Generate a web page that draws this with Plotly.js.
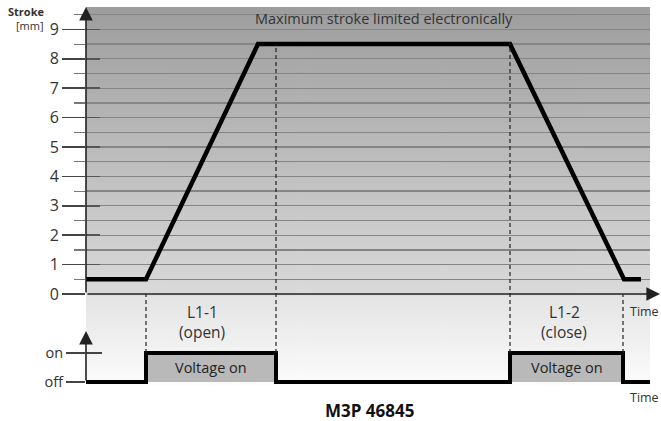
<!DOCTYPE html>
<html>
<head>
<meta charset="utf-8">
<script src="https://cdn.plot.ly/plotly-3.0.1.min.js"></script>
<style>html,body{margin:0;padding:0;background:#fff}#chart{width:661px;height:421px}</style>
</head>
<body>
<div id="chart"></div>
<script>
// ---- data ----
const strokeTime = [0, 60, 172, 424, 538, 555];
const strokeMM   = [0.5, 0.5, 8.5, 8.5, 0.5, 0.5];
const voltTime   = [0, 60, 190, 424, 537, 564];
const voltState  = [0, 1, 0, 1, 0, 0];
const eventTime  = [60, 190, 424, 537];
const eventTop   = [0, 8.5, 8.5, 0];
const strokeTicks = [0,1,2,3,4,5,6,7,8,9];
const voltTickVals = [0, 1];
const voltTickText = ['off', 'on'];
const phaseLabels = [
  {t: 116, a: 'L1-1', b: '(open)'},
  {t: 478, a: 'L1-2', b: '(close)'}
];
const pulseLabel = 'Voltage on';

// ---- geometry (pixel -> paper helpers) ----
const W = 661, H = 421;
const px = x => x / W;
const py = y => 1 - y / H;
const yDom = [py(294), py(7)];
const yRange = [0, 287 / 29.4];
const y2Dom = [py(392), py(330)];
const y2Range = [-10 / 29, 52 / 29];
const strokeToPaper = v => yDom[0] + (v - yRange[0]) / (yRange[1] - yRange[0]) * (yDom[1] - yDom[0]);
const voltToPaper = v => y2Dom[0] + (v - y2Range[0]) / (y2Range[1] - y2Range[0]) * (y2Dom[1] - y2Dom[0]);

// ---- gradient background ----
const cv = document.createElement('canvas');
cv.width = 4; cv.height = 378;
const ctx = cv.getContext('2d');
const g = ctx.createLinearGradient(0, 0, 0, 378);
g.addColorStop(0, '#9d9d9d');
g.addColorStop(143 / 378, '#bbbbbb');
g.addColorStop(285 / 378, '#d9d9d9');
g.addColorStop(290 / 378, '#e4e4e4');
g.addColorStop(1, '#fcfcfc');
ctx.fillStyle = g; ctx.fillRect(0, 0, 4, 378);
const bgURL = cv.toDataURL();

const FONT = 'Open Sans, sans-serif';
const TXT = '#333';

const traces = [
  {x: voltTime, y: voltState, xaxis: 'x', yaxis: 'y2', mode: 'lines', line: {shape: 'hv', width: 0, color: 'rgba(0,0,0,0)'},
   fill: 'tozeroy', fillcolor: '#b9b9b9', hoverinfo: 'skip', showlegend: false},
  {x: voltTime, y: voltState, xaxis: 'x', yaxis: 'y2', mode: 'lines', line: {shape: 'hv', width: 4, color: '#000'},
   hoverinfo: 'skip', showlegend: false},
  {x: strokeTime, y: strokeMM, xaxis: 'x', yaxis: 'y', mode: 'lines', line: {width: 4.5, color: '#000'},
   hoverinfo: 'skip', showlegend: false},
  {x: [null], y: [null], xaxis: 'x', yaxis: 'y3', mode: 'lines', showlegend: false, hoverinfo: 'skip'},
  {x: [null], y: [null], xaxis: 'x', yaxis: 'y4', mode: 'lines', showlegend: false, hoverinfo: 'skip'}
];

const shapes = eventTime.map((t, i) => ({
  type: 'line', xref: 'x', yref: 'paper', x0: t, x1: t,
  y0: voltToPaper(1), y1: strokeToPaper(eventTop[i]),
  line: {color: '#222', width: 1.2, dash: '4px,3px'}, layer: 'above'
}));

const annotations = [
  {xref: 'paper', yref: 'paper', x: px(86), y: py(7), ax: 0, ay: 287,
   showarrow: true, arrowhead: 2, arrowsize: 1.7, arrowwidth: 1.6, arrowcolor: '#222', text: ''},
  {xref: 'paper', yref: 'paper', x: px(660), y: py(294), ax: -574, ay: 0,
   showarrow: true, arrowhead: 2, arrowsize: 1.7, arrowwidth: 1.6, arrowcolor: '#222', text: ''},
  {xref: 'paper', yref: 'paper', x: px(86), y: py(331), ax: 0, ay: 51,
   showarrow: true, arrowhead: 2, arrowsize: 1.7, arrowwidth: 1.6, arrowcolor: '#222', text: ''},
  {xref: 'paper', yref: 'paper', x: px(46), y: py(12), xanchor: 'right', yanchor: 'middle', showarrow: false,
   text: '<b>Stroke</b>', font: {family: FONT, size: 11, color: TXT}},
  {xref: 'paper', yref: 'paper', x: px(46), y: py(26), xanchor: 'right', yanchor: 'middle', showarrow: false,
   text: '[mm]', font: {family: FONT, size: 11, color: TXT}},
  {xref: 'paper', yref: 'paper', x: px(384), y: py(18), xanchor: 'center', yanchor: 'middle', showarrow: false,
   text: 'Maximum stroke limited electronically', font: {family: FONT, size: 14.5, color: TXT}},
  {xref: 'paper', yref: 'paper', x: px(661), y: py(311), xanchor: 'right', yanchor: 'middle', showarrow: false,
   text: 'Time', font: {family: FONT, size: 12.5, color: TXT}},
  {xref: 'paper', yref: 'paper', x: px(661), y: py(397), xanchor: 'right', yanchor: 'middle', showarrow: false,
   text: 'Time', font: {family: FONT, size: 12.5, color: TXT}},
  {xref: 'paper', yref: 'paper', x: px(369), y: py(410), xanchor: 'center', yanchor: 'middle', showarrow: false,
   text: '<b>M3P 46845</b>', font: {family: FONT, size: 17, color: '#111'}}
];
phaseLabels.forEach(p => {
  annotations.push({xref: 'x', yref: 'paper', x: p.t, y: py(312), xanchor: 'center', yanchor: 'middle', showarrow: false,
    text: p.a, font: {family: FONT, size: 15.5, color: TXT}});
  annotations.push({xref: 'x', yref: 'paper', x: p.t, y: py(332), xanchor: 'center', yanchor: 'middle', showarrow: false,
    text: p.b, font: {family: FONT, size: 15.5, color: TXT}});
});
[[60, 190], [424, 537]].forEach(([a, b]) => {
  annotations.push({xref: 'x', yref: 'y2', x: (a + b) / 2, y: 0.5, xanchor: 'center', yanchor: 'middle', showarrow: false,
    text: pulseLabel, font: {family: FONT, size: 14.5, color: '#222'}});
});

const layout = {
  width: W, height: H,
  margin: {l: 0, r: 0, t: 0, b: 0},
  paper_bgcolor: '#fff', plot_bgcolor: 'rgba(0,0,0,0)',
  showlegend: false,
  xaxis: {domain: [px(86), px(650)], range: [0, 564], anchor: 'y', showgrid: false, zeroline: false,
          showline: false, showticklabels: false, ticks: '', fixedrange: true},
  yaxis: {domain: yDom, range: yRange, anchor: 'x', tickvals: strokeTicks, ticks: 'outside', ticklen: 23,
          tickwidth: 1.5, tickcolor: '#444', showgrid: true, gridcolor: '#858585', gridwidth: 1.3,
          zeroline: false, showline: false,
          minor: {dtick: 0.5, tick0: 0, ticks: 'outside', ticklen: 11, tickwidth: 1.2, tickcolor: '#777',
                  showgrid: true, gridcolor: '#858585', gridwidth: 1.3},
          tickfont: {family: FONT, size: 16, color: TXT}, fixedrange: true},
  yaxis3: {overlaying: 'y', range: yRange, anchor: 'x', tickvals: strokeTicks, ticks: 'inside', ticklen: 14,
           tickwidth: 1.5, tickcolor: '#555', showticklabels: false, showgrid: false, zeroline: false, showline: false},
  yaxis2: {domain: y2Dom, range: y2Range, anchor: 'x', tickvals: voltTickVals, ticktext: voltTickText,
           ticks: 'outside', ticklen: 19, tickwidth: 1.5, tickcolor: '#444', showgrid: false, zeroline: false,
           showline: false, tickfont: {family: FONT, size: 14.5, color: TXT}, fixedrange: true},
  yaxis4: {overlaying: 'y2', range: y2Range, anchor: 'x', tickvals: [1], ticks: 'inside', ticklen: 16,
           tickwidth: 1.5, tickcolor: '#444', showticklabels: false, showgrid: false, zeroline: false, showline: false},
  images: [{source: bgURL, xref: 'paper', yref: 'paper', x: px(86), y: py(7), sizex: (650 - 86) / W,
            sizey: (385 - 7) / H, xanchor: 'left', yanchor: 'top', sizing: 'stretch', layer: 'below'}],
  shapes: shapes,
  annotations: annotations
};

Plotly.newPlot('chart', traces, layout, {displayModeBar: false, staticPlot: true});
</script>
</body>
</html>
